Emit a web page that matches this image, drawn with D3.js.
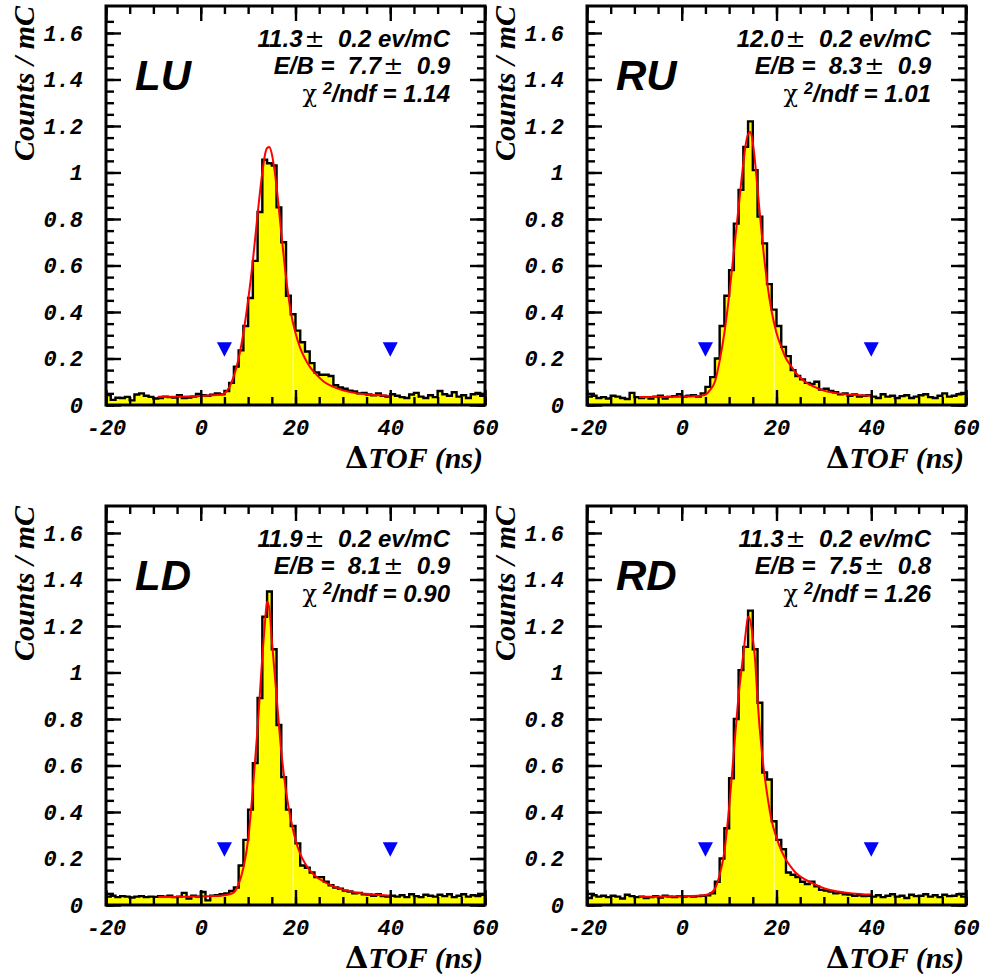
<!DOCTYPE html>
<html>
<head>
<meta charset="utf-8">
<script src="https://cdn.jsdelivr.net/npm/d3@7"></script>
<style>
  html, body { margin: 0; padding: 0; background: #fff; }
  svg { display: block; }
  text { white-space: pre; }
</style>
</head>
<body>
<svg id="chart" width="984" height="974"></svg>
<script>
// ---- data -------------------------------------------------------------
// Histograms: 1 ns bins, first bin starts at -20 ns (80 bins up to 60 ns)
const binStart = -20;
const binWidth = 1;

const histLU = [
  0.043, 0.022, 0.031, 0.030, 0.035, 0.020, 0.045, 0.050, 0.040, 0.035,
  0.028, 0.030, 0.036, 0.034, 0.032, 0.042, 0.030, 0.032, 0.036, 0.048,
  0.042, 0.040, 0.044, 0.050, 0.046, 0.060, 0.095, 0.165, 0.235, 0.340,
  0.460, 0.620, 0.830, 1.055, 1.040, 1.030, 0.850, 0.700, 0.470, 0.390,
  0.320, 0.270, 0.230, 0.180, 0.140, 0.130, 0.130, 0.125, 0.085, 0.075,
  0.070, 0.062, 0.058, 0.050, 0.052, 0.045, 0.042, 0.050, 0.040, 0.036,
  0.046, 0.040, 0.034, 0.030, 0.045, 0.052, 0.036, 0.030, 0.042, 0.034,
  0.060, 0.046, 0.040, 0.055, 0.036, 0.042, 0.030, 0.046, 0.052, 0.040
];
const histRU = [
  0.036, 0.040, 0.030, 0.034, 0.028, 0.040, 0.036, 0.030, 0.026, 0.052,
  0.034, 0.030, 0.034, 0.028, 0.036, 0.040, 0.028, 0.035, 0.038, 0.046,
  0.036, 0.040, 0.042, 0.036, 0.050, 0.078, 0.120, 0.200, 0.340, 0.470,
  0.580, 0.780, 0.925, 1.110, 1.220, 1.010, 0.810, 0.695, 0.520, 0.410,
  0.340, 0.250, 0.210, 0.150, 0.125, 0.110, 0.095, 0.090, 0.100, 0.066,
  0.070, 0.060, 0.055, 0.046, 0.050, 0.040, 0.045, 0.036, 0.040, 0.042,
  0.036, 0.030, 0.046, 0.036, 0.040, 0.030, 0.038, 0.042, 0.030, 0.036,
  0.042, 0.046, 0.034, 0.030, 0.040, 0.050, 0.036, 0.040, 0.046, 0.052
];
const histLD = [
  0.036, 0.040, 0.034, 0.038, 0.036, 0.032, 0.036, 0.038, 0.034, 0.036,
  0.035, 0.038, 0.036, 0.040, 0.034, 0.036, 0.052, 0.028, 0.040, 0.036,
  0.056, 0.020, 0.040, 0.042, 0.046, 0.050, 0.060, 0.075, 0.170, 0.280,
  0.410, 0.610, 0.890, 1.240, 1.348, 1.100, 0.774, 0.550, 0.410, 0.340,
  0.265, 0.170, 0.160, 0.140, 0.120, 0.120, 0.100, 0.085, 0.075, 0.070,
  0.062, 0.058, 0.050, 0.052, 0.046, 0.045, 0.040, 0.046, 0.038, 0.036,
  0.040, 0.036, 0.042, 0.034, 0.046, 0.038, 0.034, 0.044, 0.040, 0.036,
  0.044, 0.038, 0.046, 0.034, 0.040, 0.046, 0.036, 0.042, 0.038, 0.044
];
const histRD = [
  0.030, 0.042, 0.036, 0.040, 0.034, 0.040, 0.036, 0.028, 0.044, 0.038,
  0.034, 0.036, 0.030, 0.034, 0.038, 0.032, 0.040, 0.036, 0.034, 0.038,
  0.036, 0.038, 0.036, 0.038, 0.040, 0.042, 0.050, 0.100, 0.200, 0.330,
  0.545, 0.800, 1.010, 1.110, 1.266, 1.100, 0.870, 0.570, 0.540, 0.360,
  0.280, 0.240, 0.140, 0.130, 0.120, 0.100, 0.090, 0.100, 0.080, 0.065,
  0.062, 0.058, 0.050, 0.052, 0.046, 0.045, 0.040, 0.042, 0.038, 0.040,
  0.036, 0.042, 0.034, 0.040, 0.046, 0.036, 0.040, 0.030, 0.044, 0.038,
  0.040, 0.046, 0.036, 0.042, 0.034, 0.044, 0.038, 0.040, 0.046, 0.036
];

// Fitted curves, sampled at these times (ns)
const fitX = [-9, -6, -3, 0, 2, 4, 5, 6, 7, 8,
              9, 10, 11, 12, 13, 13.5, 14, 14.5, 15, 15.5,
              16, 17, 18, 19, 20, 21, 22, 23, 24, 26,
              28, 30, 33, 36, 40];
const fitLU = [0.036, 0.036, 0.037, 0.039, 0.041, 0.044, 0.050, 0.075, 0.125, 0.200,
               0.310, 0.450, 0.620, 0.820, 1.000, 1.070, 1.105, 1.110, 1.080, 1.020,
               0.940, 0.740, 0.550, 0.400, 0.310, 0.245, 0.200, 0.165, 0.140, 0.100,
               0.078, 0.063, 0.050, 0.044, 0.039];
const fitRU = [0.034, 0.034, 0.035, 0.036, 0.037, 0.040, 0.045, 0.065, 0.100, 0.190,
               0.310, 0.470, 0.660, 0.850, 1.040, 1.120, 1.165, 1.175, 1.130, 1.040,
               0.930, 0.710, 0.530, 0.400, 0.310, 0.250, 0.200, 0.170, 0.140, 0.100,
               0.078, 0.062, 0.050, 0.044, 0.040];
const fitLD = [0.034, 0.034, 0.036, 0.037, 0.038, 0.040, 0.042, 0.046, 0.055, 0.090,
               0.160, 0.280, 0.500, 0.760, 1.070, 1.200, 1.305, 1.270, 1.140, 1.020,
               0.900, 0.660, 0.490, 0.370, 0.280, 0.220, 0.180, 0.150, 0.128, 0.100,
               0.080, 0.066, 0.053, 0.046, 0.040];
const fitRD = [0.036, 0.036, 0.037, 0.038, 0.039, 0.041, 0.043, 0.050, 0.070, 0.130,
               0.230, 0.420, 0.660, 0.900, 1.080, 1.170, 1.240, 1.220, 1.150, 1.050,
               0.880, 0.640, 0.480, 0.360, 0.290, 0.235, 0.195, 0.165, 0.140, 0.110,
               0.090, 0.072, 0.058, 0.050, 0.045];

// Integration window markers (ns) and their height
const markerX = [5, 40];
const markerY = 0.24;
// boundary between the two filled regions
const seamX = 19.5;

// Panel names and fit results
const panelNames = ["LU", "RU", "LD", "RD"];
const rateVal   = ["11.3", "12.0", "11.9", "11.3"];
const rateErr   = ["0.2", "0.2", "0.2", "0.2"];
const ebVal     = ["7.7", "8.3", "8.1", "7.5"];
const ebErr     = ["0.9", "0.9", "0.9", "0.8"];
const chiNdf    = ["1.14", "1.01", "0.90", "1.26"];
const histData  = [histLU, histRU, histLD, histRD];
const fitData   = [fitLU, fitRU, fitLD, fitRD];

// Axes
const xDomain = [-20, 60];
const yDomain = [0, 1.716];
const xTickValues = [-20, 0, 20, 40, 60];
const xTickLabels = ["-20", "0", "20", "40", "60"];
const yTickValues = [0, 0.2, 0.4, 0.6, 0.8, 1, 1.2, 1.4, 1.6];
const yTickLabels = ["0", "0.2", "0.4", "0.6", "0.8", "1", "1.2", "1.4", "1.6"];
const xMinorTicks = d3.range(-20, 61, 5);
const yMinorTicks = d3.range(0, 1.70, 0.05);

// ---- layout -----------------------------------------------------------
const frameW = 379, frameH = 399;
const colLeft = [106, 587];
const rowTop = [6, 506];

const FONT_TICK = "'Liberation Mono', 'Courier New', monospace";
const FONT_TITLE = "'Liberation Serif', 'Times New Roman', serif";
const FONT_SANS = "'Liberation Sans', Arial, Helvetica, sans-serif";
const FONT_SYM = "'DejaVu Serif', 'Liberation Serif', serif";

const svg = d3.select("#chart");

panelNames.forEach((name, p) => {
  const L = colLeft[p % 2], T = rowTop[Math.floor(p / 2)];
  const R = L + frameW, B = T + frameH;
  const hist = histData[p], fit = fitData[p];

  const x = d3.scaleLinear().domain(xDomain).range([L, R]);
  const y = d3.scaleLinear().domain(yDomain).range([B, T]);

  const g = svg.append("g");
  const clipId = "clip" + name;
  g.append("clipPath").attr("id", clipId)
    .append("rect").attr("x", L).attr("y", T).attr("width", frameW).attr("height", frameH);

  const plot = g.append("g").attr("clip-path", `url(#${clipId})`);

  // step points: left edge of every bin, plus the closing edge
  const steps = hist.map((v, i) => [binStart + i * binWidth, v]);
  steps.push([binStart + hist.length * binWidth, hist[hist.length - 1]]);

  plot.append("path")
    .attr("d", d3.area().curve(d3.curveStepAfter)
      .x(d => x(d[0])).y0(y(0)).y1(d => y(d[1]))(steps))
    .attr("fill", "#ffff00");

  // thin seam between the two filled regions
  const seamBin = Math.floor((seamX - binStart) / binWidth);
  plot.append("line")
    .attr("x1", x(seamX)).attr("x2", x(seamX))
    .attr("y1", y(0)).attr("y2", y(hist[seamBin]) + 2)
    .attr("stroke", "#fff").attr("stroke-width", 1).attr("opacity", 0.75);

  plot.append("path")
    .attr("d", d3.line().curve(d3.curveStepAfter)
      .x(d => x(d[0])).y(d => y(d[1]))(steps))
    .attr("fill", "none").attr("stroke", "#000").attr("stroke-width", 2.4)
    .attr("stroke-linejoin", "miter");

  // fit curve
  plot.append("path")
    .attr("d", d3.line().curve(d3.curveMonotoneX)
      .x((d, i) => x(fitX[i])).y(d => y(d))(fit))
    .attr("fill", "none").attr("stroke", "#ff0000").attr("stroke-width", 2);

  // window markers (downward triangles)
  plot.selectAll("path.marker").data(markerX).enter().append("path")
    .attr("class", "marker")
    .attr("d", d => {
      const cx = x(d), cy = y(markerY);
      return `M${cx - 7.5},${cy - 7}L${cx + 7.5},${cy - 7}L${cx},${cy + 7.5}Z`;
    })
    .attr("fill", "#0000ff");

  // ticks on all four sides, pointing inward
  const tickAxis = (axis, tr, vals, size) => {
    g.append("g").attr("transform", tr)
      .call(axis.tickValues(vals).tickSize(size).tickFormat(""))
      .call(s => s.select(".domain").remove())
      .call(s => s.selectAll("line").attr("stroke", "#000").attr("stroke-width", 2.4));
  };
  tickAxis(d3.axisBottom(x), `translate(0,${B})`, xMinorTicks, -8);
  tickAxis(d3.axisBottom(x), `translate(0,${B})`, xTickValues, -15);
  tickAxis(d3.axisTop(x), `translate(0,${T})`, xMinorTicks, -8);
  tickAxis(d3.axisTop(x), `translate(0,${T})`, xTickValues, -15);
  tickAxis(d3.axisLeft(y), `translate(${L},0)`, yMinorTicks, -8);
  tickAxis(d3.axisLeft(y), `translate(${L},0)`, yTickValues, -15);
  tickAxis(d3.axisRight(y), `translate(${R},0)`, yMinorTicks, -8);
  tickAxis(d3.axisRight(y), `translate(${R},0)`, yTickValues, -15);

  // frame
  g.append("rect").attr("x", L).attr("y", T).attr("width", frameW).attr("height", frameH)
    .attr("fill", "none").attr("stroke", "#000").attr("stroke-width", 3);

  // tick labels
  const labelStyle = s => s.select(".domain").remove();
  g.append("g").attr("transform", `translate(0,${B})`)
    .call(d3.axisBottom(x).tickValues(xTickValues).tickSize(0).tickPadding(14)
      .tickFormat((d, i) => xTickLabels[i]))
    .call(labelStyle)
    .call(s => s.selectAll("text").attr("font-family", FONT_TICK).attr("font-weight", "bold")
      .attr("font-style", "italic").attr("font-size", 22).attr("fill", "#000"));
  g.append("g").attr("transform", `translate(${L},0)`)
    .call(d3.axisLeft(y).tickValues(yTickValues).tickSize(0).tickPadding(23)
      .tickFormat((d, i) => yTickLabels[i]))
    .call(labelStyle)
    .call(s => s.selectAll("text").attr("font-family", FONT_TICK).attr("font-weight", "bold")
      .attr("font-style", "italic").attr("font-size", 22).attr("fill", "#000"));

  // axis titles
  const xt = g.append("text")
    .attr("x", R - 2).attr("y", B + 63)
    .attr("text-anchor", "end")
    .attr("font-family", FONT_TITLE).attr("font-weight", "bold").attr("font-style", "italic")
    .attr("font-size", 30);
  xt.append("tspan").attr("font-family", FONT_SYM).attr("font-style", "normal").text("\u0394");
  xt.append("tspan").text("TOF (ns)");

  g.append("text")
    .attr("transform", `translate(${L - 72},${T}) rotate(-90)`)
    .attr("text-anchor", "end")
    .attr("font-family", FONT_TITLE).attr("font-weight", "bold").attr("font-style", "italic")
    .attr("font-size", 30)
    .text("Counts / mC");

  // panel name
  g.append("text")
    .attr("x", L + 29).attr("y", T + 84)
    .attr("font-family", FONT_SANS).attr("font-weight", "bold").attr("font-style", "italic")
    .attr("font-size", 42)
    .text(name);

  // fit results
  const statX = R - 35;
  const stat = (yy) => g.append("text").attr("x", statX).attr("y", T + yy)
    .attr("text-anchor", "end")
    .attr("font-family", FONT_SANS).attr("font-weight", "bold").attr("font-style", "italic")
    .attr("font-size", 24);
  const s1 = stat(41);
  s1.append("tspan").text(rateVal[p]);
  s1.append("tspan").attr("dx", 2).attr("font-family", FONT_SYM).attr("font-weight", "normal")
    .attr("font-style", "normal").text("\u00B1");
  s1.append("tspan").text(`  ${rateErr[p]} ev/mC`);

  const s2 = stat(68);
  s2.append("tspan").text(`E/B =  ${ebVal[p]}`);
  s2.append("tspan").attr("dx", 2).attr("font-family", FONT_SYM).attr("font-weight", "normal")
    .attr("font-style", "normal").text("\u00B1");
  s2.append("tspan").text(`  ${ebErr[p]}`);

  const s3 = stat(96);
  s3.append("tspan").attr("font-family", FONT_SYM).attr("font-weight", "normal")
    .attr("font-style", "normal").text("\u03C7");
  s3.append("tspan").attr("dx", 6).attr("dy", -8).attr("font-size", 16).text("2");
  s3.append("tspan").attr("dy", 8).text(`/ndf = ${chiNdf[p]}`);
});
</script>
</body>
</html>
